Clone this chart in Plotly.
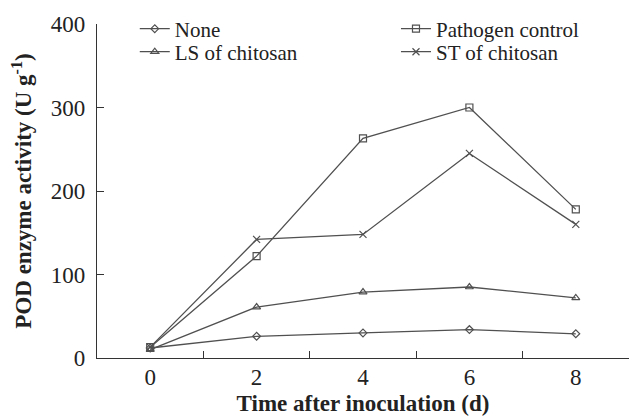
import plotly.graph_objects as go

days = [0, 2, 4, 6, 8]
none_vals = [12, 26, 30, 34, 29]
pathogen_vals = [13, 122, 263, 300, 178]
ls_vals = [10, 61, 79, 85, 72]
st_vals = [13, 142, 148, 245, 160]

x_labels = ["0", "2", "4", "6", "8"]
y_ticks = [0, 100, 200, 300, 400]

series = [
    ("None", none_vals, "diamond-open", 6, "legend"),
    ("Pathogen control", pathogen_vals, "square-open", 7, "legend2"),
    ("LS of chitosan", ls_vals, "triangle-up-open", 7, "legend3"),
    ("ST of chitosan", st_vals, "x-thin-open", 7, "legend4"),
]

col = "#505050"
fig = go.Figure()
for name, vals, sym, sz, lg in series:
    fig.add_trace(go.Scatter(
        x=days, y=vals, name=name, mode="lines+markers",
        line=dict(color=col, width=1.3),
        marker=dict(symbol=sym, size=sz, color=col, line=dict(color=col, width=1.2)),
        legend=lg, showlegend=True,
    ))

font = "Liberation Serif, Times New Roman, serif"
lfont = dict(size=21, family=font, color="#222222")
def leg(x, y):
    return dict(x=x, y=y, xanchor="left", yanchor="middle", font=lfont,
                bgcolor="rgba(0,0,0,0)", itemwidth=30, visible=True)

fig.update_layout(
    width=629, height=420,
    showlegend=True,
    margin=dict(l=97, r=0, t=24, b=62),
    plot_bgcolor="white", paper_bgcolor="white",
    font=dict(family=font, color="#222222"),
    legend=leg(0.071, 0.985),
    legend2=leg(0.562, 0.985),
    legend3=leg(0.071, 0.916),
    legend4=leg(0.562, 0.916),
    xaxis=dict(
        range=[-1, 9], tickvals=days, ticktext=x_labels, ticks="",
        showline=True, linecolor="#333333", linewidth=1.3, showgrid=False, zeroline=False,
        tickfont=dict(size=23, family=font), ticklabelstandoff=-2,
        minor=dict(tickvals=[1, 3, 5, 7, 9], ticks="inside", ticklen=7, tickcolor="#333333", showgrid=False),
        title=dict(text="<b>Time after inoculation (d)</b>", font=dict(size=23, family=font), standoff=6),
    ),
    yaxis=dict(
        range=[0, 400], tickvals=y_ticks, ticks="inside", ticklen=7, tickcolor="#333333",
        showline=True, linecolor="#333333", linewidth=1.3, showgrid=False, zeroline=False,
        tickfont=dict(size=23, family=font), ticklabelstandoff=6,
        title=dict(text="<b>POD enzyme activity (U g<sup>-1</sup>)</b>", font=dict(size=23, family=font), standoff=12),
    ),
)

fig.write_html("out.html")
